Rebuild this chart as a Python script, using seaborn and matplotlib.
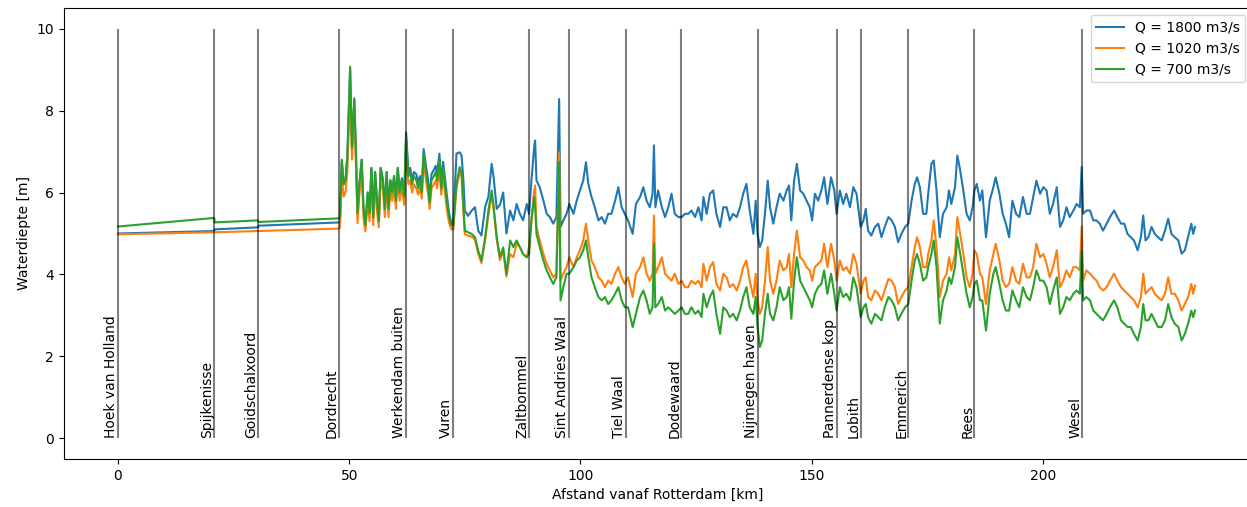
import matplotlib
matplotlib.use("Agg")
import matplotlib.pyplot as plt
import seaborn as sns
import pandas as pd

# ---------------- data ----------------
series_labels = ["Q = 1800 m3/s", "Q = 1020 m3/s", "Q = 700 m3/s"]
series_colors = ["#1f77b4", "#ff7f0e", "#2ca02c"]

stations = ["Hoek van Holland", "Spijkenisse", "Goidschalxoord", "Dordrecht",
            "Werkendam buiten", "Vuren", "Zaltbommel", "Sint Andries Waal",
            "Tiel Waal", "Dodewaard", "Nijmegen haven", "Pannerdense kop",
            "Lobith", "Emmerich", "Rees", "Wesel"]
station_km = [0, 20.8, 30.3, 47.8, 62.3, 72.5, 88.9, 97.6, 109.8, 121.8,
              138.3, 155.4, 160.6, 170.9, 185.2, 208.5]

# segment A: 0 - 47.8 km
km_a = [0, 20.8, 20.9, 30.3, 30.4, 47.8]
q1800_a = [5.00, 5.06, 5.10, 5.15, 5.19, 5.27]
q1020_a = [4.98, 5.03, 5.03, 5.06, 5.06, 5.12]
q700_a = [5.17, 5.38, 5.27, 5.32, 5.28, 5.37]

# segment B: 48 - 72 km
km_b = [48.0, 48.4, 48.8, 49.2, 49.6, 50.2, 50.6, 51.1, 51.4, 51.8,
        52.2, 52.7, 53.1, 53.5, 54.0, 54.4, 54.8, 55.2, 55.6, 56.0,
        56.4, 56.8, 57.3, 57.7, 58.1, 58.5, 58.9, 59.3, 59.7, 60.1,
        60.5, 60.9, 61.4, 61.9, 62.3, 62.8, 63.2, 63.6, 64.0, 64.5,
        64.9, 65.3, 65.7, 66.1, 66.6, 67.0, 67.4, 67.8, 68.3, 68.7,
        69.0, 69.5, 69.9, 70.3, 70.7, 71.1, 71.6, 72.1]
q1800_b = [5.30, 6.75, 6.20, 6.30, 6.90, 9.00, 7.10, 8.25, 7.20, 5.45,
           6.20, 6.80, 5.60, 5.20, 6.00, 5.50, 6.60, 5.40, 6.50, 5.80,
           5.30, 6.60, 6.30, 5.60, 6.50, 5.60, 6.30, 6.00, 6.40, 5.80,
           6.60, 6.05, 6.35, 5.95, 7.47, 6.50, 6.60, 6.30, 6.50, 6.45,
           6.25, 6.40, 6.15, 7.06, 6.65, 6.35, 5.90, 6.45, 6.55, 6.65,
           6.45, 6.95, 6.25, 6.75, 6.35, 5.95, 5.50, 5.25]
q1020_b = [5.15, 6.40, 5.90, 6.00, 6.50, 8.60, 6.80, 7.90, 6.90, 5.25,
           5.95, 6.50, 5.35, 5.05, 5.80, 5.30, 6.30, 5.20, 6.25, 5.55,
           5.15, 6.35, 6.05, 5.40, 6.25, 5.40, 6.05, 5.80, 6.15, 5.60,
           6.35, 5.80, 6.10, 5.70, 7.10, 6.20, 6.30, 6.00, 6.20, 6.10,
           5.95, 6.10, 5.85, 6.75, 6.30, 6.00, 5.60, 6.10, 6.20, 6.30,
           6.10, 6.60, 5.95, 6.40, 6.00, 5.60, 5.25, 5.10]
q700_b = [5.40, 6.80, 6.20, 6.30, 6.90, 9.07, 7.10, 8.30, 7.20, 5.50,
          6.20, 6.80, 5.60, 5.20, 6.00, 5.50, 6.60, 5.40, 6.50, 5.80,
          5.30, 6.60, 6.30, 5.60, 6.50, 5.60, 6.30, 6.00, 6.40, 5.80,
          6.60, 6.00, 6.30, 5.90, 7.35, 6.40, 6.50, 6.20, 6.40, 6.30,
          6.10, 6.30, 6.00, 6.95, 6.50, 6.20, 5.75, 6.30, 6.40, 6.50,
          6.30, 6.80, 6.10, 6.60, 6.20, 5.80, 5.40, 5.20]

# segment C: 72.5 - 84 km
km_c = [72.5, 73.2, 73.9, 74.3, 74.7, 75.0, 75.7, 76.5, 77.2, 77.9,
        78.6, 79.4, 80.1, 80.8, 81.2, 81.9, 82.6, 83.3, 84.0]
q1800_c = [5.25, 6.95, 6.98, 6.90, 6.29, 5.56, 5.43, 5.56, 5.64, 5.07,
           4.95, 5.65, 5.90, 6.70, 6.40, 5.60, 5.70, 6.00, 5.00]
q1020_c = [5.10, 6.10, 6.50, 6.40, 5.55, 4.98, 4.95, 4.92, 4.85, 4.50,
           4.28, 4.85, 5.45, 5.95, 5.60, 4.85, 4.35, 4.58, 3.95]
q700_c = [5.19, 6.21, 6.62, 6.50, 5.64, 5.07, 5.03, 4.99, 4.91, 4.58,
          4.34, 4.91, 5.56, 6.05, 5.70, 4.91, 4.42, 4.66, 4.01]

# segment D: 84.8 - 122.6 km
km_d = [84.8, 85.5, 86.2, 86.9, 87.6, 88.4, 88.9, 89.4, 90.0, 90.2,
        90.5, 91.2, 92.0, 92.7, 93.4, 94.1, 94.8, 95.4, 95.7, 96.3,
        97.0, 97.6, 98.5, 99.2, 99.9, 100.6, 101.2, 101.7, 102.4, 103.1,
        103.9, 104.6, 105.3, 106.0, 106.7, 107.5, 108.2, 108.9, 109.6, 110.3,
        111.3, 112.0, 112.9, 113.6, 114.3, 115.0, 115.6, 115.9, 116.2, 116.8,
        117.6, 118.3, 119.0, 119.7, 120.4, 121.2, 121.9, 122.6]
q1800_d = [5.56, 5.32, 5.72, 5.48, 5.32, 5.72, 5.48, 6.29, 7.11, 7.27,
           6.29, 6.13, 5.80, 5.48, 5.40, 5.24, 5.40, 8.28, 5.16, 5.32,
           5.48, 5.72, 5.48, 5.80, 6.05, 6.29, 6.74, 6.21, 5.89, 5.64,
           5.32, 5.40, 5.24, 5.48, 5.48, 5.80, 6.13, 5.64, 5.48, 5.32,
           4.99, 5.72, 5.89, 6.13, 5.80, 5.64, 5.97, 7.15, 5.64, 6.05,
           5.64, 5.40, 5.64, 5.97, 5.48, 5.40, 5.40, 5.48]
q1020_d = [4.50, 4.42, 4.75, 4.67, 4.50, 4.42, 4.67, 5.32, 6.05, 6.17,
           5.16, 4.83, 4.50, 4.26, 4.10, 3.93, 4.02, 6.98, 3.85, 4.02,
           4.18, 4.42, 4.18, 4.42, 4.59, 4.83, 5.24, 4.83, 4.34, 4.18,
           3.93, 3.85, 3.69, 3.85, 3.77, 4.02, 4.18, 3.93, 3.77, 3.93,
           3.45, 4.02, 4.18, 4.42, 4.02, 3.85, 4.02, 5.44, 4.02, 4.18,
           4.42, 4.02, 3.93, 3.85, 4.02, 3.77, 3.85, 3.69]
q700_d = [4.83, 4.67, 4.83, 4.67, 4.50, 4.42, 4.50, 5.32, 5.89, 5.64,
          4.99, 4.67, 4.34, 4.10, 3.93, 3.77, 3.93, 6.74, 3.37, 3.69,
          4.02, 4.02, 4.18, 4.34, 4.42, 4.59, 4.83, 4.42, 3.93, 3.69,
          3.45, 3.37, 3.45, 3.28, 3.37, 3.53, 3.69, 3.37, 3.20, 3.20,
          2.72, 3.04, 3.45, 3.61, 3.37, 3.04, 3.20, 4.75, 3.20, 3.28,
          3.45, 3.12, 3.20, 3.12, 3.04, 3.12, 3.20, 3.04]

# segment E: 123 - 160.6 km
km_e = [123.3, 124.0, 124.8, 125.5, 126.2, 126.6, 127.3, 128.0, 128.7, 129.4,
        130.2, 130.9, 131.6, 132.3, 133.0, 133.8, 134.5, 135.2, 135.9, 136.6,
        137.4, 137.9, 138.3, 138.8, 139.3, 139.9, 140.5, 141.0, 141.7, 142.4,
        143.1, 143.9, 144.6, 145.1, 145.6, 146.2, 146.8, 147.5, 148.2, 148.9,
        149.6, 150.1, 150.7, 151.4, 152.1, 152.7, 153.4, 154.2, 154.9, 155.4,
        156.1, 156.8, 157.5, 158.3, 159.0, 159.7, 160.6]
q1800_e = [5.48, 5.56, 5.40, 5.64, 5.32, 5.89, 5.48, 5.97, 6.05, 5.48,
           5.16, 5.64, 5.64, 5.32, 5.48, 5.40, 5.64, 5.97, 6.21, 5.56,
           4.99, 5.80, 4.99, 4.67, 4.83, 5.48, 6.29, 5.64, 5.24, 5.64,
           5.97, 5.80, 6.05, 6.17, 5.32, 6.29, 6.70, 6.05, 5.97, 5.80,
           5.64, 5.32, 5.97, 5.80, 6.05, 6.37, 5.72, 6.37, 6.05, 5.48,
           6.05, 5.72, 5.97, 5.64, 6.13, 5.97, 5.16]
q1020_e = [3.69, 3.85, 3.77, 3.85, 3.69, 4.26, 3.85, 4.18, 4.30, 3.77,
           3.61, 4.02, 3.93, 3.69, 3.77, 3.61, 3.85, 4.18, 4.34, 3.85,
           3.45, 4.02, 3.37, 3.04, 3.20, 3.85, 4.67, 3.85, 3.53, 3.85,
           4.34, 4.10, 4.18, 4.50, 3.69, 4.50, 5.07, 4.42, 4.34, 4.18,
           4.10, 3.85, 4.18, 4.26, 4.34, 4.75, 4.18, 4.75, 4.34, 3.85,
           4.34, 4.10, 4.18, 4.02, 4.50, 4.26, 3.53]
q700_e = [3.04, 3.20, 3.04, 3.12, 2.96, 3.53, 3.20, 3.45, 3.61, 3.04,
          2.55, 3.20, 3.12, 2.96, 3.04, 2.88, 3.12, 3.45, 3.69, 3.20,
          3.04, 3.45, 2.72, 2.23, 2.39, 3.04, 3.53, 3.04, 2.88, 3.20,
          3.69, 3.37, 3.45, 3.69, 2.92, 3.85, 4.42, 3.85, 3.69, 3.53,
          3.37, 3.20, 3.53, 3.69, 3.77, 4.10, 3.53, 4.02, 3.53, 3.12,
          3.69, 3.45, 3.53, 3.37, 3.93, 3.69, 2.96]

# segment F: 161 - 198.6 km
km_f = [161.2, 161.7, 162.2, 162.9, 163.7, 164.4, 165.1, 165.8, 166.6, 167.3,
        168.0, 168.7, 169.4, 170.2, 170.9, 171.6, 172.3, 172.8, 173.4, 174.1,
        174.8, 175.2, 175.9, 176.4, 177.0, 177.7, 178.4, 179.2, 179.7, 180.2,
        181.0, 181.5, 182.0, 182.8, 183.5, 184.2, 184.8, 185.2, 185.7, 186.4,
        186.9, 187.7, 188.5, 189.3, 189.8, 190.6, 191.3, 192.0, 192.7, 193.4,
        194.2, 194.9, 195.7, 196.5, 197.2, 197.9, 198.6]
q1800_f = [5.32, 5.60, 5.07, 4.95, 5.16, 5.24, 4.91, 5.16, 5.40, 5.32,
           5.16, 4.79, 4.99, 5.16, 5.24, 5.80, 6.21, 6.37, 6.13, 5.48,
           5.48, 5.97, 6.70, 6.78, 6.05, 4.91, 5.48, 5.64, 6.05, 5.72,
           6.13, 6.90, 6.62, 6.05, 5.48, 5.32, 5.64, 6.05, 6.21, 5.80,
           6.05, 4.91, 5.80, 6.13, 6.37, 5.97, 5.48, 5.24, 4.91, 5.80,
           5.48, 5.40, 5.89, 5.48, 5.48, 5.89, 6.29]
q1020_f = [3.85, 3.93, 3.45, 3.37, 3.61, 3.53, 3.37, 3.61, 3.89, 3.85,
           3.69, 3.28, 3.45, 3.61, 3.69, 4.18, 4.67, 4.91, 4.67, 4.18,
           4.18, 4.50, 4.83, 5.32, 4.67, 3.45, 3.85, 4.02, 4.42, 4.10,
           4.50, 5.40, 5.07, 4.50, 3.93, 3.69, 4.02, 4.59, 4.50, 4.02,
           3.93, 3.28, 4.10, 4.50, 4.75, 4.34, 3.85, 3.69, 3.77, 4.18,
           3.85, 3.77, 4.26, 3.93, 3.93, 4.18, 4.75]
q700_f = [3.20, 3.28, 2.96, 2.80, 3.04, 2.96, 2.88, 3.20, 3.45, 3.37,
          3.20, 2.88, 3.04, 3.20, 3.28, 3.85, 4.34, 4.50, 4.26, 3.85,
          3.93, 4.18, 4.50, 4.83, 4.18, 2.80, 3.37, 3.61, 3.93, 3.77,
          4.18, 4.91, 4.59, 4.02, 3.53, 3.20, 3.45, 3.77, 3.85, 3.37,
          3.37, 2.63, 3.53, 4.02, 4.18, 3.77, 3.37, 3.12, 3.12, 3.61,
          3.37, 3.20, 3.69, 3.45, 3.37, 3.69, 4.10]

# segment G: 199 - 233 km
km_g = [199.4, 200.1, 200.8, 201.5, 202.2, 203.0, 203.7, 204.4, 205.1, 205.8,
        206.6, 207.3, 208.0, 208.4, 208.7, 209.4, 210.2, 210.9, 211.6, 212.3,
        213.0, 213.8, 214.5, 215.4, 216.1, 216.9, 217.6, 218.3, 219.0, 219.7,
        220.5, 221.2, 221.7, 222.2, 222.8, 223.5, 224.2, 224.9, 225.7, 226.4,
        227.1, 227.8, 228.5, 229.3, 230.0, 230.7, 231.4, 232.1, 232.5, 232.9]
q1800_g = [5.97, 6.13, 6.05, 5.48, 5.72, 6.13, 5.16, 5.32, 5.64, 5.40,
           5.56, 5.72, 5.64, 6.62, 5.48, 5.56, 5.56, 5.32, 5.32, 5.24,
           5.07, 5.24, 5.40, 5.56, 5.40, 5.24, 5.24, 4.99, 4.91, 4.83,
           4.59, 4.91, 5.44, 4.83, 4.91, 5.16, 4.99, 4.91, 4.83, 5.07,
           5.36, 4.99, 4.91, 4.83, 4.51, 4.59, 4.91, 5.24, 4.99, 5.16]
q1020_g = [4.42, 4.50, 4.26, 3.93, 4.18, 4.59, 3.69, 3.85, 4.10, 3.93,
           4.18, 4.18, 4.10, 5.16, 3.85, 4.10, 4.02, 3.93, 3.85, 3.69,
           3.61, 3.69, 3.85, 4.02, 3.85, 3.69, 3.61, 3.53, 3.45, 3.37,
           3.20, 3.45, 4.02, 3.53, 3.61, 3.69, 3.53, 3.45, 3.37, 3.53,
           3.93, 3.53, 3.53, 3.37, 3.12, 3.28, 3.45, 3.77, 3.53, 3.73]
q700_g = [3.85, 3.85, 3.69, 3.28, 3.61, 3.93, 3.04, 3.20, 3.45, 3.37,
          3.53, 3.61, 3.53, 4.59, 3.37, 3.45, 3.37, 3.12, 3.04, 2.96,
          2.88, 3.04, 3.20, 3.37, 3.20, 2.88, 2.80, 2.72, 2.72, 2.55,
          2.39, 2.72, 3.28, 2.88, 2.88, 3.04, 2.88, 2.72, 2.72, 2.88,
          3.28, 2.96, 2.80, 2.72, 2.39, 2.55, 2.80, 3.12, 2.96, 3.12]

km = km_a + km_b + km_c + km_d + km_e + km_f + km_g
q1800 = q1800_a + q1800_b + q1800_c + q1800_d + q1800_e + q1800_f + q1800_g
q1020 = q1020_a + q1020_b + q1020_c + q1020_d + q1020_e + q1020_f + q1020_g
q700 = q700_a + q700_b + q700_c + q700_d + q700_e + q700_f + q700_g

# ---------------- plotting ----------------
frames = []
for lab, vals in zip(series_labels, [q1800, q1020, q700]):
    n = min(len(km), len(vals))
    frames.append(pd.DataFrame({"km": km[:n], "depth": vals[:n], "Q": [lab] * n}))
df = pd.concat(frames, ignore_index=True)

fig = plt.figure(figsize=(12.47, 5.07), dpi=100)
ax = fig.add_axes([0.0513, 0.0947, 0.953, 0.8895])

sns.lineplot(data=df, x="km", y="depth", hue="Q", hue_order=series_labels,
             palette=series_colors, estimator=None, sort=False,
             linewidth=1.5, ax=ax)

ax.vlines(station_km, 0, 10, colors="black", alpha=0.5, linewidth=1.5)
for name, x in zip(stations, station_km):
    ax.text(x, 0, name, rotation=90, ha="right", va="bottom", fontsize=10)

ax.set_xlim(-11.68, 245.3)
ax.set_ylim(-0.5, 10.5)
ax.set_xticks([0, 50, 100, 150, 200])
ax.set_yticks([0, 2, 4, 6, 8, 10])
ax.set_xlabel("Afstand vanaf Rotterdam [km]")
ax.set_ylabel("Waterdiepte [m]")

handles, labels = ax.get_legend_handles_labels()
ax.legend(handles, labels, loc="upper right")

fig.savefig("out.png", dpi=100)
